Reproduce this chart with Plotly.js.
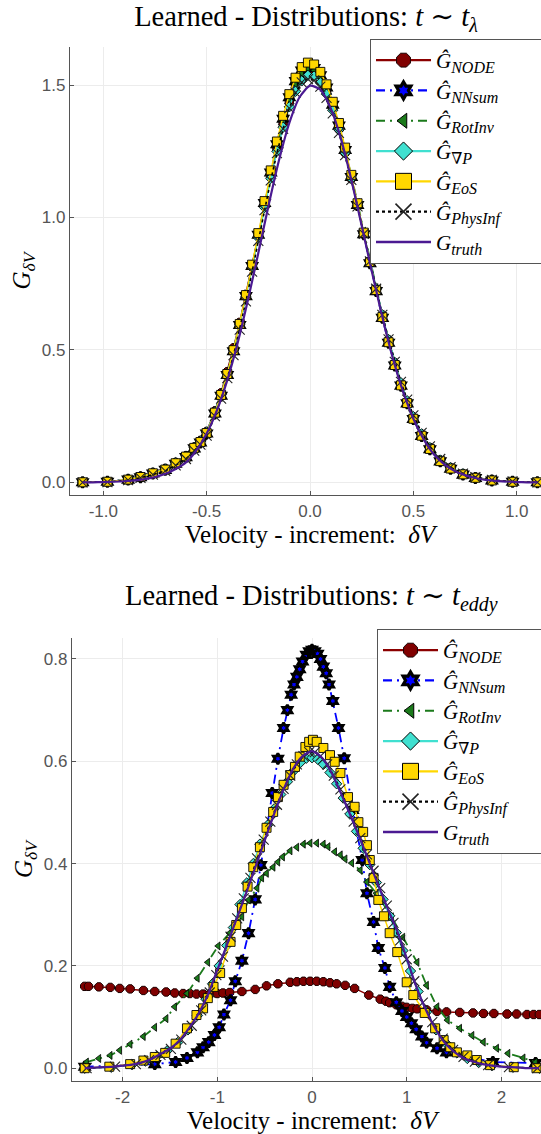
<!DOCTYPE html>
<html>
<head>
<meta charset="utf-8">
<script src="https://cdn.plot.ly/plotly-3.0.1.min.js"></script>
<style>
  html, body { margin: 0; padding: 0; overflow: hidden; background: #fff; }
  #chart { width: 560px; height: 1134px; }
</style>
</head>
<body>
<div id="chart"></div>
<script>
// ---- t ~ t_lambda : shared sample positions of the learned distributions ----
const xTop = [-1.10,-0.98,-0.88,-0.82,-0.76,-0.70,-0.65,-0.60,-0.56,-0.53,-0.50,-0.46,-0.43,-0.40,-0.37,-0.34,-0.31,-0.28,-0.25,-0.22,-0.19,-0.16,-0.13,-0.10,-0.07,-0.04,-0.01,0.02,0.05,0.08,0.11,0.14,0.17,0.20,0.23,0.26,0.29,0.32,0.35,0.38,0.41,0.44,0.47,0.50,0.54,0.58,0.63,0.68,0.74,0.80,0.88,0.98,1.10];
const topNODE = [0.000,0.002,0.011,0.022,0.036,0.052,0.075,0.100,0.133,0.158,0.192,0.270,0.338,0.418,0.508,0.604,0.710,0.818,0.930,1.045,1.158,1.262,1.355,1.435,1.497,1.537,1.552,1.545,1.518,1.472,1.410,1.333,1.244,1.146,1.043,0.937,0.830,0.726,0.627,0.534,0.450,0.373,0.305,0.246,0.182,0.131,0.084,0.054,0.031,0.018,0.008,0.002,0.000];
const topNNsum = [0.000,0.002,0.010,0.019,0.033,0.047,0.070,0.095,0.128,0.150,0.184,0.260,0.327,0.405,0.495,0.594,0.703,0.817,0.935,1.055,1.170,1.277,1.373,1.454,1.515,1.555,1.571,1.565,1.537,1.491,1.426,1.347,1.255,1.153,1.047,0.937,0.827,0.722,0.621,0.527,0.441,0.365,0.298,0.239,0.175,0.125,0.079,0.051,0.029,0.016,0.007,0.002,0.000];
const topRotInv = [0.000,0.002,0.010,0.020,0.034,0.049,0.073,0.098,0.131,0.154,0.188,0.264,0.331,0.409,0.498,0.595,0.702,0.815,0.932,1.050,1.164,1.270,1.364,1.444,1.505,1.545,1.561,1.556,1.530,1.486,1.423,1.347,1.258,1.159,1.056,0.948,0.840,0.735,0.634,0.539,0.452,0.374,0.306,0.246,0.181,0.130,0.083,0.054,0.031,0.018,0.008,0.002,0.000];
const topGradP = [0.000,0.002,0.010,0.021,0.035,0.050,0.074,0.099,0.132,0.156,0.190,0.266,0.333,0.411,0.499,0.595,0.700,0.810,0.924,1.038,1.148,1.250,1.341,1.418,1.477,1.516,1.537,1.534,1.509,1.466,1.405,1.331,1.244,1.147,1.046,0.940,0.834,0.731,0.632,0.539,0.453,0.376,0.308,0.248,0.183,0.131,0.084,0.055,0.032,0.018,0.008,0.002,0.000];
const topEoS = [0.000,0.002,0.010,0.020,0.034,0.048,0.072,0.097,0.130,0.152,0.186,0.263,0.330,0.409,0.499,0.598,0.707,0.822,0.941,1.062,1.178,1.287,1.384,1.466,1.528,1.568,1.585,1.578,1.550,1.503,1.437,1.357,1.264,1.161,1.054,0.943,0.832,0.726,0.624,0.529,0.443,0.366,0.299,0.240,0.176,0.126,0.080,0.052,0.030,0.017,0.007,0.002,0.000];
const topPhysInf = [0.000,0.001,0.008,0.017,0.029,0.043,0.064,0.088,0.120,0.142,0.176,0.250,0.316,0.393,0.480,0.577,0.683,0.796,0.912,1.028,1.140,1.243,1.335,1.413,1.472,1.510,1.523,1.518,1.494,1.452,1.393,1.320,1.236,1.142,1.042,0.938,0.834,0.731,0.632,0.540,0.455,0.379,0.312,0.253,0.187,0.136,0.088,0.057,0.033,0.019,0.009,0.003,0.000];
const xTruthTop = [-1.10,-1.05,-1.00,-0.95,-0.90,-0.85,-0.80,-0.75,-0.70,-0.65,-0.60,-0.55,-0.50,-0.45,-0.40,-0.35,-0.30,-0.25,-0.20,-0.15,-0.10,-0.05,0.00,0.05,0.10,0.15,0.20,0.25,0.30,0.35,0.40,0.45,0.50,0.55,0.60,0.65,0.70,0.75,0.80,0.85,0.90,0.95,1.00,1.05,1.10];
const truthTop = [0.000,0.000,0.001,0.002,0.004,0.007,0.012,0.020,0.032,0.050,0.075,0.120,0.184,0.272,0.386,0.526,0.689,0.866,1.047,1.216,1.357,1.455,1.498,1.483,1.413,1.296,1.143,0.970,0.793,0.624,0.471,0.343,0.240,0.162,0.105,0.068,0.043,0.027,0.016,0.009,0.005,0.003,0.001,0.000,0.000];

// ---- t ~ t_eddy : each learned distribution sampled at its own positions ----
const xNODEb = [-2.40,-2.36,-2.25,-2.13,-2.03,-1.92,-1.78,-1.66,-1.54,-1.45,-1.36,-1.29,-1.22,-1.15,-1.08,-1.00,-0.94,-0.87,-0.74,-0.60,-0.48,-0.36,-0.23,-0.16,-0.09,-0.02,0.05,0.12,0.19,0.26,0.35,0.45,0.60,0.72,0.78,0.82,0.89,0.95,1.00,1.06,1.11,1.21,1.32,1.42,1.56,1.70,1.81,1.92,2.06,2.16,2.27,2.34,2.40];
const yNODEb = [0.160,0.160,0.159,0.158,0.156,0.155,0.152,0.150,0.149,0.147,0.146,0.146,0.145,0.145,0.145,0.146,0.147,0.148,0.150,0.154,0.161,0.165,0.168,0.169,0.170,0.170,0.170,0.169,0.167,0.165,0.162,0.156,0.143,0.135,0.131,0.128,0.124,0.121,0.119,0.117,0.116,0.114,0.111,0.110,0.109,0.108,0.107,0.107,0.106,0.106,0.105,0.105,0.105];
const xNNsumB = [-2.40,-1.66,-1.44,-1.32,-1.21,-1.15,-1.09,-1.03,-0.98,-0.93,-0.86,-0.81,-0.74,-0.67,-0.60,-0.54,-0.42,-0.36,-0.30,-0.26,-0.22,-0.19,-0.16,-0.13,-0.10,-0.06,-0.03,0.00,0.03,0.06,0.09,0.12,0.15,0.18,0.22,0.28,0.34,0.43,0.53,0.58,0.65,0.70,0.77,0.82,0.89,0.95,1.00,1.05,1.10,1.16,1.21,1.32,1.42,1.91,2.36];
const yNNsumB = [0.003,0.008,0.012,0.020,0.031,0.041,0.051,0.065,0.080,0.105,0.133,0.170,0.210,0.264,0.330,0.397,0.538,0.605,0.665,0.700,0.730,0.750,0.765,0.780,0.795,0.808,0.815,0.818,0.815,0.810,0.800,0.785,0.772,0.750,0.718,0.665,0.606,0.505,0.407,0.342,0.286,0.235,0.196,0.159,0.129,0.112,0.100,0.088,0.076,0.062,0.050,0.039,0.031,0.012,0.010];
const xRotInvB = [-2.38,-2.25,-2.13,-2.03,-1.92,-1.78,-1.66,-1.54,-1.45,-1.32,-1.21,-1.10,-0.99,-0.87,-0.74,-0.67,-0.58,-0.53,-0.48,-0.41,-0.36,-0.31,-0.23,-0.16,-0.09,-0.02,0.05,0.12,0.17,0.24,0.30,0.35,0.42,0.51,0.58,0.68,0.84,0.96,1.11,1.21,1.32,1.43,1.56,1.69,1.81,1.95,2.07,2.23,2.36];
const yRotInvB = [0.012,0.019,0.025,0.035,0.047,0.062,0.080,0.097,0.120,0.146,0.176,0.207,0.239,0.264,0.296,0.329,0.352,0.372,0.381,0.393,0.403,0.413,0.425,0.432,0.438,0.440,0.440,0.438,0.433,0.423,0.417,0.409,0.401,0.387,0.364,0.342,0.296,0.256,0.207,0.162,0.120,0.094,0.078,0.064,0.051,0.039,0.029,0.020,0.012];
const xGradPB = [-2.40,-2.12,-1.90,-1.76,-1.64,-1.53,-1.42,-1.31,-1.21,-1.12,-1.05,-0.98,-0.90,-0.83,-0.76,-0.69,-0.62,-0.55,-0.47,-0.40,-0.33,-0.26,-0.19,-0.12,-0.06,0.00,0.06,0.12,0.19,0.26,0.33,0.40,0.47,0.54,0.61,0.68,0.75,0.82,0.89,0.96,1.04,1.12,1.21,1.31,1.42,1.53,1.64,1.76,1.90,2.12,2.40];
const yGradPB = [0.000,0.002,0.007,0.014,0.023,0.034,0.050,0.075,0.103,0.135,0.165,0.200,0.240,0.275,0.320,0.362,0.400,0.438,0.475,0.507,0.535,0.560,0.582,0.598,0.606,0.607,0.604,0.594,0.578,0.556,0.528,0.497,0.463,0.430,0.398,0.363,0.330,0.298,0.265,0.230,0.190,0.150,0.110,0.075,0.048,0.030,0.019,0.011,0.005,0.002,0.000];
const xEoSB = [-2.40,-2.14,-1.92,-1.78,-1.66,-1.55,-1.44,-1.32,-1.22,-1.15,-1.10,-1.04,-0.97,-0.86,-0.80,-0.74,-0.68,-0.62,-0.55,-0.48,-0.41,-0.36,-0.30,-0.23,-0.18,-0.13,-0.07,-0.03,0.01,0.05,0.12,0.19,0.24,0.30,0.38,0.45,0.49,0.54,0.58,0.61,0.65,0.70,0.76,0.82,0.90,1.00,1.07,1.19,1.30,1.39,1.46,1.53,1.64,1.74,1.88,2.13,2.37];
const yEoSB = [0.000,0.003,0.008,0.015,0.022,0.030,0.048,0.078,0.104,0.117,0.137,0.159,0.186,0.247,0.280,0.313,0.355,0.393,0.432,0.470,0.501,0.530,0.554,0.573,0.589,0.609,0.628,0.638,0.642,0.638,0.626,0.612,0.599,0.577,0.530,0.511,0.481,0.462,0.436,0.407,0.372,0.329,0.297,0.264,0.227,0.168,0.143,0.108,0.078,0.055,0.041,0.031,0.025,0.016,0.006,0.002,0.000];
const xPhysInfB = [-2.38,-2.08,-1.86,-1.72,-1.60,-1.49,-1.38,-1.27,-1.17,-1.08,-1.01,-0.94,-0.86,-0.79,-0.72,-0.65,-0.58,-0.51,-0.44,-0.37,-0.30,-0.23,-0.16,-0.09,-0.03,0.03,0.09,0.16,0.23,0.30,0.37,0.44,0.51,0.58,0.65,0.72,0.79,0.86,0.93,1.00,1.08,1.17,1.27,1.38,1.49,1.60,1.72,1.86,2.08,2.38];
const yPhysInfB = [0.000,0.003,0.008,0.016,0.026,0.038,0.056,0.083,0.113,0.148,0.182,0.218,0.257,0.293,0.332,0.372,0.410,0.447,0.482,0.515,0.546,0.572,0.594,0.610,0.618,0.618,0.610,0.594,0.572,0.545,0.514,0.482,0.450,0.418,0.386,0.352,0.318,0.284,0.250,0.213,0.170,0.128,0.090,0.058,0.036,0.022,0.013,0.006,0.002,0.000];
const xTruthB = [-2.4,-2.3,-2.2,-2.1,-2.0,-1.9,-1.8,-1.7,-1.6,-1.5,-1.4,-1.3,-1.2,-1.1,-1.0,-0.9,-0.8,-0.7,-0.6,-0.5,-0.4,-0.3,-0.2,-0.1,0.0,0.1,0.2,0.3,0.4,0.5,0.6,0.7,0.8,0.9,1.0,1.1,1.2,1.3,1.4,1.5,1.6,1.7,1.8,1.9,2.0,2.1,2.2,2.3,2.4];
const truthB = [0.000,0.001,0.002,0.003,0.005,0.007,0.011,0.018,0.028,0.038,0.054,0.078,0.106,0.143,0.192,0.240,0.290,0.340,0.392,0.445,0.497,0.545,0.585,0.610,0.620,0.608,0.580,0.540,0.497,0.452,0.405,0.358,0.312,0.268,0.215,0.160,0.115,0.078,0.050,0.032,0.020,0.013,0.008,0.005,0.003,0.002,0.001,0.000,0.000];

// ---- tick labels ----
const topXTicks = [-1, -0.5, 0, 0.5, 1];
const topXLabels = ['-1.0', '-0.5', '0.0', '0.5', '1.0'];
const topYTicks = [0, 0.5, 1, 1.5];
const topYLabels = ['0.0', '0.5', '1.0', '1.5'];
const botXTicks = [-2, -1, 0, 1, 2];
const botXLabels = ['-2', '-1', '0', '1', '2'];
const botYTicks = [0, 0.2, 0.4, 0.6, 0.8];
const botYLabels = ['0.0', '0.2', '0.4', '0.6', '0.8'];

// legend names (trailing spaces keep the legend frame wide)
const sub = s => '<sub><span style="font-size:16px">' + s + '</span></sub>';
const names = [
  '<i>Ĝ</i>' + sub('<i>NODE</i>'),
  '<i>Ĝ</i>' + sub('<i>NNsum</i>'),
  '<i>Ĝ</i>' + sub('<i>RotInv</i>'),
  '<i>Ĝ</i>' + sub('∇<i>P</i>'),
  '<i>Ĝ</i>' + sub('<i>EoS</i>'),
  '<i>Ĝ</i>' + sub('<i>PhysInf</i>') + '\u00a0\u00a0\u00a0\u00a0\u00a0\u00a0\u00a0\u00a0\u00a0\u00a0',
  '<i>G</i>' + sub('<i>truth</i>')
];

// ---- styles ----
const W = 560, H = 1134;
const serif = 'Liberation Serif, DejaVu Serif, serif';
const sans = 'Liberation Sans, Arial, sans-serif';
const styles = [
  { line: { color: '#8b0000', width: 1.5 }, marker: { symbol: 'octagon', color: '#800000', size: 9, line: { color: '#1a0000', width: 1 } } },
  { line: { color: '#0000ff', width: 1.8, dash: '9px,5px,2px,5px' }, marker: { symbol: 'hexagram', color: '#0000ff', size: 8, line: { color: '#000', width: 2.8 } } },
  { line: { color: '#1b7a1b', width: 1.8, dash: '9px,5px,2px,5px' }, marker: { symbol: 'triangle-left', color: '#1b7a1b', size: 7, line: { color: '#000', width: 0.8 } } },
  { line: { color: '#40e0d0', width: 1.5 }, marker: { symbol: 'diamond', color: '#40e0d0', size: 8, line: { color: '#000', width: 0.9 } } },
  { line: { color: '#ffd700', width: 1.5 }, marker: { symbol: 'square', color: '#ffd700', size: 9, line: { color: '#000', width: 0.9 } } },
  { line: { color: '#000', width: 1.6, dash: 'dot' }, marker: { symbol: 'x-thin-open', color: '#222', size: 10, line: { color: '#222', width: 1.1 } } },
  { line: { color: '#4b1a92', width: 2.2 } }
];
const legendMarkerSize = [15, 13, 13, 14, 16, 16, 0];
const legendMarkerLine = [1, 3.2, 1, 1, 1, 1.6, 0];

function dataTrace(i, x, y, xa, ya) {
  const s = styles[i];
  const t = {
    type: 'scatter', x: x, y: y, xaxis: xa, yaxis: ya,
    mode: s.marker ? 'lines+markers' : 'lines',
    line: s.line, showlegend: false, hoverinfo: 'skip', cliponaxis: true
  };
  if (s.marker) t.marker = s.marker;
  if (i === 6) t.line = Object.assign({ shape: 'spline', smoothing: 0.6 }, s.line);
  return t;
}
function legendTrace(i, legendId) {
  const s = styles[i];
  const t = {
    type: 'scatter', x: [null], y: [null], xaxis: 'x', yaxis: 'y',
    name: names[i], legend: legendId, legendgroup: legendId + '-' + i, showlegend: true,
    mode: s.marker ? 'lines+markers' : 'lines',
    line: Object.assign({}, s.line, { width: i === 6 ? 2.6 : 2.2 })
  };
  if (s.marker) {
    t.marker = Object.assign({}, s.marker, { size: legendMarkerSize[i] });
    t.marker.line = Object.assign({}, s.marker.line, { width: legendMarkerLine[i] });
  }
  return t;
}

const topSeries = [topNODE, topNNsum, topRotInv, topGradP, topEoS, topPhysInf];
const botX = [xNODEb, xNNsumB, xRotInvB, xGradPB, xEoSB, xPhysInfB];
const botY = [yNODEb, yNNsumB, yRotInvB, yGradPB, yEoSB, yPhysInfB];

const traces = [];
for (let i = 0; i < 6; i++) traces.push(dataTrace(i, xTop, topSeries[i], 'x', 'y'));
traces.push(dataTrace(6, xTruthTop, truthTop, 'x', 'y'));
for (let i = 0; i < 6; i++) traces.push(dataTrace(i, botX[i], botY[i], 'x2', 'y2'));
traces.push(dataTrace(6, xTruthB, truthB, 'x2', 'y2'));
for (let i = 0; i < 7; i++) traces.push(legendTrace(i, 'legend'));
for (let i = 0; i < 7; i++) traces.push(legendTrace(i, 'legend2'));

const axisCommon = {
  showline: true, linecolor: '#555', linewidth: 1.2, mirror: false,
  ticks: 'inside', ticklen: 4, tickcolor: '#555', tickwidth: 1,
  tickfont: { family: sans, size: 17, color: '#555' },
  showgrid: true, gridcolor: '#ececec', gridwidth: 1,
  zeroline: false, automargin: false, fixedrange: true
};
const mainTitleFont = { family: serif, size: 28.5, color: '#000' };
const axisTitleFont = { family: serif, size: 25, color: '#000' };
const legendCommon = {
  bgcolor: '#fff', bordercolor: '#555', borderwidth: 1,
  font: { family: serif, size: 21, color: '#000' },
  xanchor: 'left', yanchor: 'top', itemwidth: 55, tracegroupgap: 0,
  traceorder: 'normal', itemclick: false, itemdoubleclick: false
};

const layout = {
  width: W, height: H,
  margin: { l: 0, r: 0, t: 0, b: 0, autoexpand: false },
  paper_bgcolor: '#fff', plot_bgcolor: '#fff',
  showlegend: true,
  title: {
    text: 'Learned - Distributions: <i>t</i> ∼ <i>t</i><sub><i>λ</i></sub>',
    font: mainTitleFont, x: 306 / W, xanchor: 'center', xref: 'paper',
    y: 1 - 16 / H, yanchor: 'middle', yref: 'paper'
  },
  xaxis: Object.assign({}, axisCommon, {
    domain: [70 / W, 550 / W], range: [-1.161, 1.161], anchor: 'y',
    tickvals: topXTicks, ticktext: topXLabels,
    title: { text: 'Velocity - increment:  <i>δV</i>', font: axisTitleFont, standoff: 4 }
  }),
  yaxis: Object.assign({}, axisCommon, {
    domain: [1 - 495 / H, 1 - 47 / H], range: [-0.048, 1.644], anchor: 'x',
    tickvals: topYTicks, ticktext: topYLabels,
    title: { text: '<i>G</i><sub><i>δV</i></sub>', font: axisTitleFont, standoff: 4 }
  }),
  xaxis2: Object.assign({}, axisCommon, {
    domain: [72 / W, 552 / W], range: [-2.534, 2.534], anchor: 'y2',
    tickvals: botXTicks, ticktext: botXLabels,
    title: { text: 'Velocity - increment:  <i>δV</i>', font: axisTitleFont, standoff: 4 }
  }),
  yaxis2: Object.assign({}, axisCommon, {
    domain: [1 - 1081 / H, 1 - 638 / H], range: [-0.025, 0.841], anchor: 'x2',
    tickvals: botYTicks, ticktext: botYLabels,
    title: { text: '<i>G</i><sub><i>δV</i></sub>', font: axisTitleFont, standoff: 4 }
  }),
  legend: Object.assign({}, legendCommon, { x: 370 / W, y: 1 - 39 / H }),
  legend2: Object.assign({}, legendCommon, { x: 377 / W, y: 1 - 629 / H }),
  annotations: [{
    text: 'Learned - Distributions: <i>t</i> ∼ <i>t</i><sub><i>eddy</i></sub>',
    font: mainTitleFont, showarrow: false, xref: 'paper', yref: 'paper',
    x: 311 / W, xanchor: 'center', y: 1 - 598 / H, yanchor: 'middle'
  }]
};

Plotly.newPlot('chart', traces, layout, { staticPlot: true, displayModeBar: false });
</script>
</body>
</html>
